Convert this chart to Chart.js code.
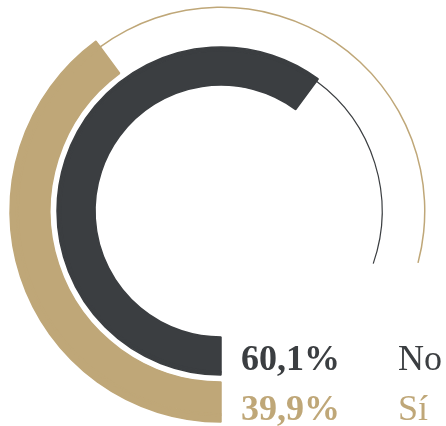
<!DOCTYPE html>
<html>
<head>
<meta charset="utf-8">
<script src="https://cdn.jsdelivr.net/npm/chart.js@4.4.0/dist/chart.umd.min.js"></script>
<style>
  html, body { margin: 0; padding: 0; background: #fff; }
  #wrap { position: relative; width: 446px; height: 426px; overflow: hidden; }
  #rings { position: absolute; left: 0; top: 0; }
  .row { position: absolute; left: 241px; font-family: "Liberation Serif", serif; font-size: 36px; line-height: 36px; white-space: nowrap; }
  .row .pct { display: inline-block; width: 157px; font-weight: bold; }
</style>
</head>
<body>
<div id="wrap">
  <canvas id="rings" width="446" height="426"></canvas>
</div>
<script>
var labels = ["No", "Sí"];
var values = [60.1, 39.9];
var colors = ["#3b3e41", "#bfa778"];

// where the thin track of each ring stops (percent of the full turn)
var trackEnd = [80.3, 79.1];

// one band is split in radial slices so the thin track sits inside it;
// the solid part gets a border in its own colour to hide the seams
function slice(i, weight, thin) {
    var v = values[i];
    return {
        data: [v, trackEnd[i] - v, 100 - trackEnd[i]],
        backgroundColor: [colors[i], thin ? colors[i] : "transparent", "transparent"],
        borderColor: [colors[i], "transparent", "transparent"],
        borderWidth: [1.5, 0, 0],
        weight: weight
    };
}

var datasets = [
    slice(1, 6.5, false),
    slice(1, 1.5, true),
    slice(1, 32, false),
    { data: [100], backgroundColor: "transparent", borderWidth: 0, weight: 7 },
    slice(0, 2.3, false),
    slice(0, 1.2, true),
    slice(0, 34.5, false)
];

var ringChart = new Chart(document.getElementById("rings"), {
    type: "doughnut",
    data: { labels: ["valor", "pista", "hueco"], datasets: datasets },
    options: {
        responsive: false,
        animation: false,
        events: [],
        rotation: 180,
        circumference: 360,
        radius: 211,
        cutout: "59.7%",
        layout: { padding: { right: 4, bottom: 4 } },
        plugins: {
            legend: { display: false },
            tooltip: { enabled: false }
        }
    }
});

// value labels under the rings
var wrap = document.getElementById("wrap");
var rowTops = [340, 390];
labels.forEach(function (name, i) {
    var row = document.createElement("div");
    row.className = "row";
    row.style.top = rowTops[i] + "px";
    row.style.color = colors[i];
    var pct = document.createElement("span");
    pct.className = "pct";
    pct.textContent = values[i].toFixed(1).replace(".", ",") + "%";
    var lab = document.createElement("span");
    lab.textContent = name;
    row.appendChild(pct);
    row.appendChild(lab);
    wrap.appendChild(row);
});
</script>
</body>
</html>
